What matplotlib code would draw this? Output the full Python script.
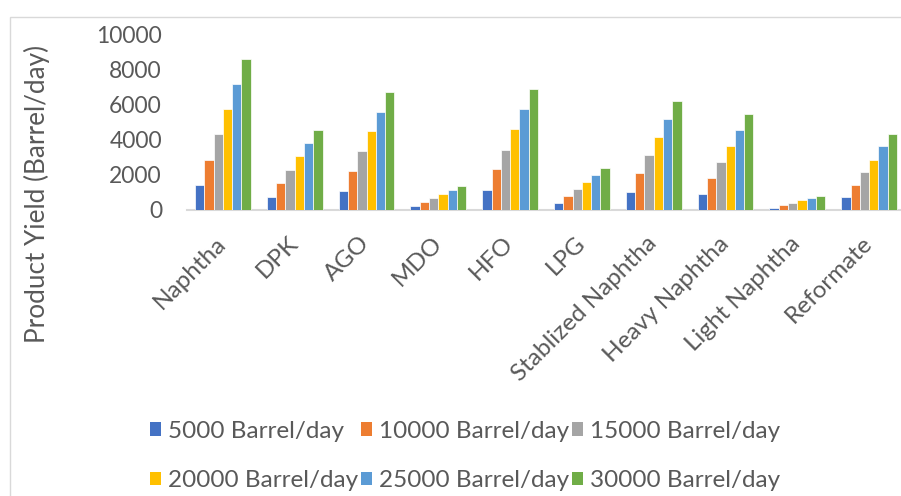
import matplotlib.pyplot as plt
import matplotlib.transforms as mtransforms
from matplotlib.patches import Rectangle, Patch
import numpy as np

plt.rcParams["font.family"] = ["Lato", "DejaVu Sans"]

products = ["Naphtha", "DPK", "AGO", "MDO", "HFO", "LPG",
            "Stablized Naphtha", "Heavy Naphtha", "Light Naphtha", "Reformate"]
capacities = ["5000 Barrel/day", "10000 Barrel/day", "15000 Barrel/day",
              "20000 Barrel/day", "25000 Barrel/day", "30000 Barrel/day"]

# yield of each product per plant capacity (barrel/day)
cap_5000 = [1400, 700, 1075, 200, 1110, 370, 980, 890, 90, 715]
cap_10000 = [2830, 1500, 2200, 430, 2300, 750, 2070, 1780, 240, 1420]
cap_15000 = [4300, 2240, 3360, 660, 3400, 1170, 3100, 2710, 390, 2160]
cap_20000 = [5740, 3040, 4490, 900, 4580, 1590, 4160, 3650, 525, 2850]
cap_25000 = [7170, 3780, 5590, 1110, 5740, 1970, 5190, 4520, 660, 3610]
cap_30000 = [8620, 4520, 6710, 1360, 6900, 2390, 6200, 5460, 790, 4300]

series = [cap_5000, cap_10000, cap_15000, cap_20000, cap_25000, cap_30000]
colors = ["#4472C4", "#ED7D31", "#A5A5A5", "#FFC000", "#5B9BD5", "#70AD47"]
text_color = "#595959"

fig = plt.figure(figsize=(9.01, 4.96), dpi=100)

# light chart border
fig.patches.append(Rectangle((10 / 901, -0.1), 1.0, (496 - 17) / 496 + 0.1,
                             transform=fig.transFigure, fill=False,
                             edgecolor="#D9D9D9", linewidth=1.0))

ax = fig.add_axes([187 / 901, (496 - 209.5) / 496, 718 / 901, 175 / 496])

x = np.arange(len(products))
slot = 0.1295
for i, (vals, c) in enumerate(zip(series, colors)):
    ax.bar(x + (i - 2.5) * slot, vals, width=slot, color=c,
           edgecolor="white", linewidth=0.5, label=capacities[i], zorder=2)

ax.set_xlim(-0.5, len(products) - 0.5)
ax.set_ylim(0, 10000)
ax.set_yticks(np.arange(0, 10001, 2000))
ax.set_xticks(x)
ax.set_xticklabels(products, rotation=45, ha="right", va="center",
                   rotation_mode="anchor", fontsize=17.5)
offset = mtransforms.ScaledTranslation(3 / 100, 0, fig.dpi_scale_trans)
for lbl in ax.get_xticklabels():
    lbl.set_transform(lbl.get_transform() + offset)

ax.tick_params(axis="both", length=0, colors=text_color)
ax.tick_params(axis="y", pad=18, labelsize=16.5)
ax.tick_params(axis="x", pad=22)

for side in ["top", "right", "left"]:
    ax.spines[side].set_visible(False)
ax.spines["bottom"].set_color("#D9D9D9")
ax.spines["bottom"].set_linewidth(1.5)
ax.spines["bottom"].set_zorder(1)

fig.text(37 / 901, 1 - 194 / 496, "Product Yield (Barrel/day)", rotation=90,
         ha="center", va="center", fontsize=18.8, color=text_color)

# legend fills column by column, so reorder to read across rows
order = [0, 3, 1, 4, 2, 5]
handles = [Patch(facecolor=colors[k]) for k in order]
labels = [capacities[k] for k in order]
fig.legend(handles, labels, ncol=3, loc="center",
           bbox_to_anchor=(465 / 901, 1 - 456 / 496), frameon=False,
           fontsize=17.5, labelcolor=text_color, handlelength=0.45,
           handleheight=0.45, handletextpad=0.3, columnspacing=0.1,
           labelspacing=1.18)

fig.savefig("out.png", dpi=100)
